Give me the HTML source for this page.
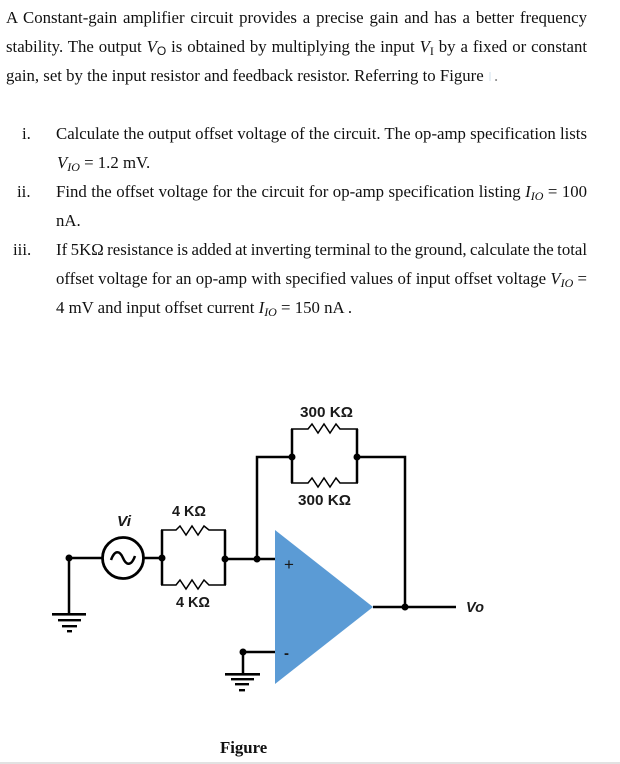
<!DOCTYPE html>
<html><head><meta charset="utf-8">
<style>
html,body{margin:0;padding:0;background:#fff;}
body{width:620px;height:764px;position:relative;overflow:hidden;font-family:"Liberation Serif",serif;color:#111;}
.l{position:absolute;font-size:16.8px;line-height:20px;height:20px;white-space:normal;text-align:justify;text-align-last:justify;word-spacing:-2px;}
.n{position:absolute;font-size:16.8px;line-height:20px;white-space:nowrap;}
i sub{font-size:12px;font-style:italic;line-height:0;vertical-align:-3px;}
sub.u{font-size:12px;line-height:0;vertical-align:-3px;font-family:"Liberation Sans",sans-serif;}
svg{position:absolute;left:0;top:0;}
</style></head><body>
<div class="l" style="left:6px;top:8px;width:581px;">A Constant-gain amplifier circuit provides a precise gain and has a better frequency</div>
<div class="l" style="left:6px;top:37px;width:581px;">stability. The output <i>V</i><sub class="u">O</sub> is obtained by multiplying the input <i>V</i><sub style="font-size:12px;line-height:0;vertical-align:-3px;">I</sub> by a fixed or constant</div>
<div class="n" style="left:6px;top:66px;">gain, set by the input resistor and feedback resistor. Referring to Figure</div>
<div class="n" style="left:494px;top:66px;color:#888;">.</div>
<div style="position:absolute;left:489px;top:72px;width:2px;height:9px;background:#e8f0f6;"></div>

<div class="n" style="left:22px;top:124px;">i.</div>
<div class="l" style="left:56px;top:124px;width:531px;">Calculate the output offset voltage of the circuit. The op-amp specification lists</div>
<div class="n" style="left:57px;top:153px;"><i>V<sub>IO</sub></i> = 1.2 mV.</div>

<div class="n" style="left:17px;top:182px;">ii.</div>
<div class="l" style="left:56px;top:182px;width:531px;">Find the offset voltage for the circuit for op-amp specification listing <i>I<sub>IO</sub></i> = 100</div>
<div class="n" style="left:56px;top:211px;">nA.</div>

<div class="n" style="left:13px;top:240px;">iii.</div>
<div class="l" style="left:56px;top:240px;width:531px;">If 5KΩ resistance is added at inverting terminal to the ground, calculate the total</div>
<div class="l" style="left:56px;top:269px;width:531px;">offset voltage for an op-amp with specified values of input offset voltage <i>V<sub>IO</sub></i> =</div>
<div class="n" style="left:56px;top:298px;">4 mV and input offset current <i>I<sub>IO</sub></i> = 150 nA .</div>

<svg width="620" height="764" viewBox="0 0 620 764" xmlns="http://www.w3.org/2000/svg">
<polygon points="275,530 373,607 275,684" fill="#5b9bd5"/>
<g fill="none" stroke="#000" stroke-width="2.5">
<path d="M69,558H102M144,558H162"/>
<path d="M69,558V614"/>
<path d="M225,559H275"/>
<path d="M257,559V457H292"/>
<path d="M357,457H405V607"/>
<path d="M373,607H456"/>
<path d="M243,652H275M243,652V674"/>
<path d="M162,558V530M162,558V585" />
<path d="M225,559V530M225,559V585"/>
<path d="M292,457V429M292,457V483"/>
<path d="M357,457V429M357,457V483"/>
<circle cx="123" cy="558" r="20.5" stroke-width="2.8"/>
<path d="M111,560C115,549 120,551 123,558C126,565 131,567 135,556" stroke-width="2.5"/>
</g>
<g fill="none" stroke="#000" stroke-width="1.5">
<path d="M161,530H176L180,526L186,535L192,526L198,535L204,526L209,530H226"/>
<path d="M161,585H176L180,580L186,589L192,580L198,589L204,580L209,585H226"/>
<path d="M291,429H308L312,424L318,433L324,424L330,433L336,424L340,429H358"/>
<path d="M291,483H308L312,478L318,487L324,478L330,487L336,478L340,483H358"/>
</g>
<g fill="#000">
<circle cx="69" cy="558" r="3.5"/><circle cx="162" cy="558" r="3.5"/><circle cx="225" cy="559" r="3.5"/><circle cx="257" cy="559" r="3.5"/>
<circle cx="292" cy="457" r="3.5"/><circle cx="357" cy="457" r="3.5"/><circle cx="405" cy="607" r="3.5"/><circle cx="243" cy="652" r="3.5"/>
<rect x="52" y="613" width="34" height="2.6"/><rect x="58" y="619" width="23" height="2.4"/><rect x="62" y="625" width="15" height="2.4"/><rect x="67" y="630" width="5" height="2.4"/>
<rect x="225" y="673" width="35" height="2.6"/><rect x="231" y="678" width="23" height="2.4"/><rect x="235" y="683" width="14" height="2.4"/><rect x="239" y="689" width="6" height="2.4"/>
</g>
<g font-family="Liberation Sans, sans-serif" font-weight="bold" font-size="15" fill="#1a1a1a">
<text x="300" y="417" textLength="53" lengthAdjust="spacingAndGlyphs">300 KΩ</text>
<text x="298" y="505" textLength="53" lengthAdjust="spacingAndGlyphs">300 KΩ</text>
<text x="172" y="516" textLength="34" lengthAdjust="spacingAndGlyphs">4 KΩ</text>
<text x="176" y="607" textLength="34" lengthAdjust="spacingAndGlyphs">4 KΩ</text>
<text x="117" y="526" font-style="italic" textLength="14" lengthAdjust="spacingAndGlyphs">Vi</text>
<text x="466" y="612" font-style="italic" textLength="18" lengthAdjust="spacingAndGlyphs">Vo</text>
<text x="284" y="570" font-weight="normal" font-size="17">+</text>
<text x="284" y="658" font-size="15">-</text>
</g>
<text x="220" y="753" font-family="Liberation Serif, serif" font-weight="bold" font-size="16.8" fill="#111">Figure</text>
<rect x="0" y="762" width="620" height="2" fill="#e2e2e2"/>
</svg>
</body></html>
